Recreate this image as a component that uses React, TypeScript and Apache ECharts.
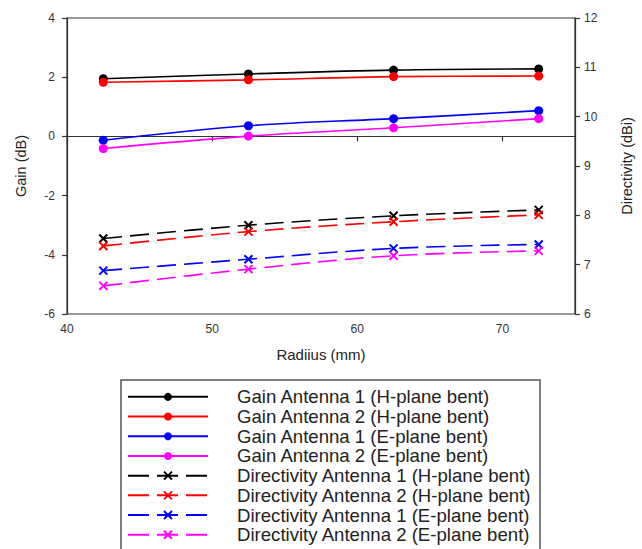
import React, { useEffect, useRef } from "react";
import * as echarts from "echarts";

const radius = [42.5, 52.5, 62.5, 72.5];
const gainA1H = [1.95, 2.11, 2.24, 2.28];
const gainA2H = [1.83, 1.91, 2.02, 2.04];
const gainA1E = [-0.13, 0.36, 0.6, 0.87];
const gainA2E = [-0.41, 0.01, 0.29, 0.6];
const dirA1H = [7.53, 7.8, 7.99, 8.11];
const dirA2H = [7.38, 7.67, 7.87, 8.01];
const dirA1E = [6.88, 7.11, 7.33, 7.41];
const dirA2E = [6.57, 6.91, 7.18, 7.28];
const xTicks = [40, 50, 60, 70];

const gainNames = [
  "Gain Antenna 1 (H-plane bent)",
  "Gain Antenna 2 (H-plane bent)",
  "Gain Antenna 1 (E-plane bent)",
  "Gain Antenna 2 (E-plane bent)",
];
const dirNames = [
  "Directivity Antenna 1 (H-plane bent)",
  "Directivity Antenna 2 (H-plane bent)",
  "Directivity Antenna 1 (E-plane bent)",
  "Directivity Antenna 2 (E-plane bent)",
];
const colors = ["#000000", "#ff0000", "#0000ff", "#ff00ff"];

const FONT = "Liberation Sans, Arial, sans-serif";
const CROSS = "path://M0,0L10,10M10,0L0,10";

function pairs(vals: number[]) {
  return radius.map((r, i) => [r, vals[i]]);
}

function gainSeries(name: string, vals: number[], color: string) {
  return {
    name,
    type: "line",
    yAxisIndex: 0,
    data: pairs(vals),
    smooth: 0.35,
    symbol: "circle",
    symbolSize: 9,
    lineStyle: { color, width: 1.6 },
    itemStyle: { color },
  };
}

function dirSeries(name: string, vals: number[], color: string) {
  return {
    name,
    type: "line",
    yAxisIndex: 1,
    data: pairs(vals),
    smooth: 0.35,
    symbol: CROSS,
    symbolSize: 8,
    lineStyle: { color, width: 1.6, type: [19, 8] },
    itemStyle: { color, borderColor: color, borderWidth: 2 },
  };
}

export default function App() {
  const ref = useRef<HTMLDivElement>(null);
  useEffect(() => {
    if (!ref.current) return;
    const chart = echarts.init(ref.current, null, { renderer: "svg" });
    const axisLine = { show: true, lineStyle: { color: "#333", width: 1.2 } };
    const axisTick = { show: true, inside: false, length: 5, lineStyle: { color: "#333", width: 1.2 } };
    const axisLabelBase = { color: "#333", fontSize: 12, fontFamily: FONT };
    const gainVals = [gainA1H, gainA2H, gainA1E, gainA2E];
    const dirVals = [dirA1H, dirA2H, dirA1E, dirA2E];
    chart.setOption({
      animation: false,
      backgroundColor: "#fff",
      grid: {
        left: 67,
        right: 63,
        top: 18,
        bottom: 235,
        show: true,
        borderColor: "#333",
        borderWidth: 1.2,
        backgroundColor: "transparent",
      },
      xAxis: {
        type: "value",
        min: 40,
        max: 75,
        interval: 10,
        name: "Radiius (mm)",
        nameLocation: "middle",
        nameGap: 33,
        nameTextStyle: { color: "#222", fontSize: 15, fontFamily: FONT },
        axisLine,
        axisTick: { ...axisTick, customValues: xTicks },
        axisLabel: { ...axisLabelBase, margin: 9, customValues: xTicks },
        splitLine: { show: false },
      },
      yAxis: [
        {
          type: "value",
          position: "left",
          min: -6,
          max: 4,
          interval: 2,
          name: "Gain (dB)",
          nameLocation: "middle",
          nameRotate: 90,
          nameGap: 39,
          nameTextStyle: { color: "#222", fontSize: 14.5, fontFamily: FONT },
          axisLine,
          axisTick,
          axisLabel: { ...axisLabelBase, margin: 12 },
          splitLine: { show: false },
        },
        {
          type: "value",
          position: "right",
          min: 6,
          max: 12,
          interval: 1,
          name: "Directivity (dBi)",
          nameLocation: "middle",
          nameRotate: 90,
          nameGap: 44,
          nameTextStyle: { color: "#222", fontSize: 14.5, fontFamily: FONT },
          axisLine,
          axisTick,
          axisLabel: { ...axisLabelBase, margin: 9 },
          splitLine: { show: false },
        },
      ],
      legend: {
        orient: "vertical",
        left: 127,
        top: 387,
        itemWidth: 80,
        itemHeight: 10,
        itemGap: 0,
        padding: 0,
        data: [
          ...gainNames.map((n) => ({ name: n })),
          ...dirNames.map((n) => ({ name: n, lineStyle: { type: [21, 8] } })),
        ],
        textStyle: {
          color: "#222",
          fontSize: 18.6,
          fontFamily: FONT,
          lineHeight: 19.7,
          padding: [0, 0, 0, 24],
        },
      },
      graphic: [
        {
          type: "rect",
          shape: { x: 121, y: 380, width: 419, height: 200 },
          style: { fill: "none", stroke: "#555", lineWidth: 1.5 },
          silent: true,
        },
      ],
      series: [
        ...gainNames.map((n, i) => gainSeries(n, gainVals[i], colors[i])),
        ...dirNames.map((n, i) => dirSeries(n, dirVals[i], colors[i])),
      ],
    });
    return () => chart.dispose();
  }, []);
  return (
    <div
      ref={ref}
      style={{ position: "fixed", left: 0, top: 0, width: 642, height: 549 }}
    />
  );
}
